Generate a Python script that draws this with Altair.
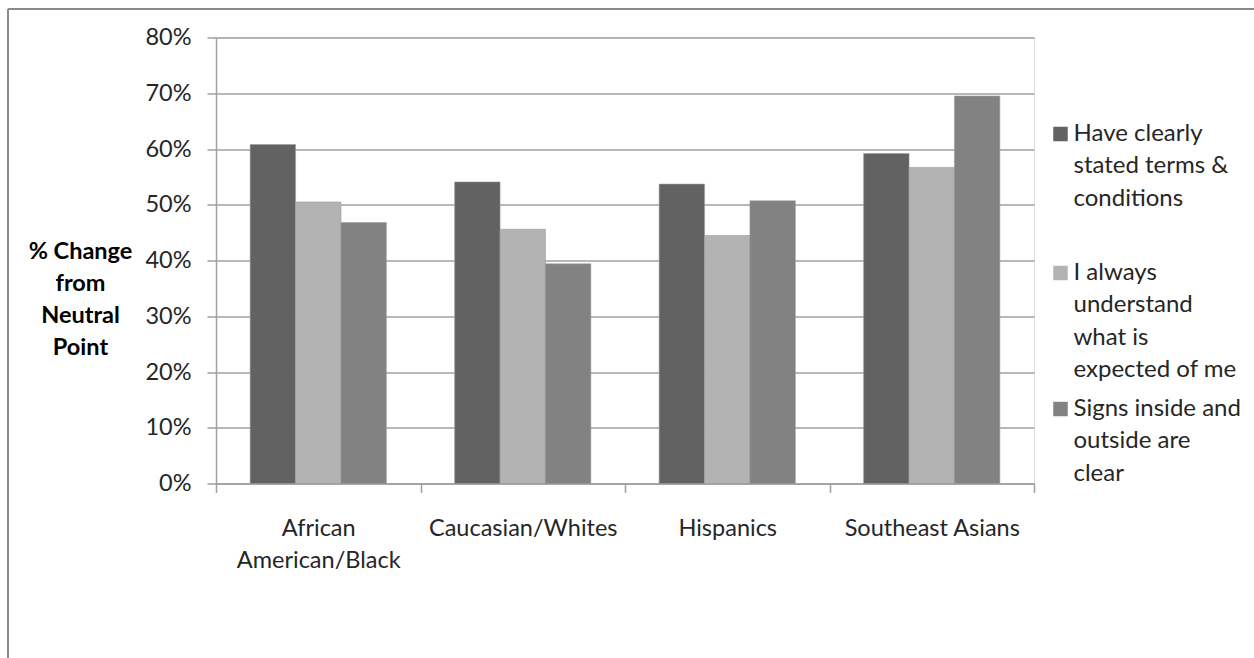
import altair as alt
import pandas as pd

# ---- data ----
groups = ["African American/Black", "Caucasian/Whites", "Hispanics", "Southeast Asians"]
series = [
    "Have clearly stated terms & conditions",
    "I always understand what is expected of me",
    "Signs inside and outside are clear",
]
legend_lines = [
    ["Have clearly", "stated terms &", "conditions"],
    ["I always", "understand", "what is", "expected of me"],
    ["Signs inside and", "outside are", "clear"],
]
terms = [0.608, 0.541, 0.537, 0.592]
understand = [0.505, 0.456, 0.445, 0.567]
signs = [0.468, 0.394, 0.507, 0.695]
colors = ["#626262", "#b3b3b3", "#828282"]
y_ticks = [0, 0.1, 0.2, 0.3, 0.4, 0.5, 0.6, 0.7, 0.8]

rows = []
for s, vals in zip(series, [terms, understand, signs]):
    for g, v in zip(groups, vals):
        rows.append({"group": g, "series": s, "value": v})
df = pd.DataFrame(rows)

FONT = "Lato"
W, H = 818, 446
PL, PT = 216, 37.5

bars = alt.Chart(df).mark_bar(stroke="#9a9a9a", strokeWidth=0.6).encode(
    x=alt.X(
        "group:N",
        sort=groups,
        scale=alt.Scale(paddingInner=0, paddingOuter=0),
        axis=alt.Axis(
            title=None,
            labelAngle=0,
            labelExpr="datum.label == 'African American/Black' ? ['African', 'American/Black'] : datum.label",
            labelFontSize=23.5,
            labelLineHeight=32,
            labelBaseline="top",
            labelPadding=24,
            labelLimit=400,
            labelOverlap=False,
            tickBand="extent",
            tickSize=9,
            tickColor="#a0a0a0",
            tickWidth=1.5,
            domainColor="#a0a0a0",
            domainWidth=1.5,
            grid=False,
        ),
    ),
    xOffset=alt.XOffset(
        "series:N", sort=series, scale=alt.Scale(paddingInner=0, paddingOuter=0.752)
    ),
    y=alt.Y(
        "value:Q",
        scale=alt.Scale(domain=[0, 0.8], nice=False),
        axis=alt.Axis(
            values=y_ticks,
            format=".0%",
            title=["% Change", "from", "Neutral", "Point"],
            titleAngle=0,
            titleFontWeight="bold",
            titleFontSize=23.5,
            titleLineHeight=32,
            titleAlign="center",
            titleBaseline="top",
            titleX=-136,
            titleY=201.5,
            labelFontSize=23.5,
            labelPadding=16,
            tickSize=9,
            tickColor="#a0a0a0",
            tickWidth=1.5,
            domainColor="#a0a0a0",
            domainWidth=1.5,
            gridColor="#a0a0a0",
            gridWidth=1.5,
        ),
    ),
    color=alt.Color(
        "series:N",
        sort=series,
        scale=alt.Scale(domain=series, range=colors),
        legend=None,
    ),
)

# manual legend (Excel-style wrapped labels)
legend_tops = [84.2, 223.2, 359.2]  # first-line tops, relative to plot area
legend_layers = []
for s, lines, top, col in zip(series, legend_lines, legend_tops, colors):
    ldf = pd.DataFrame({"series": [s], "lines": [lines]})
    sq = alt.Chart(ldf).mark_square(size=210, color=col, opacity=1).encode(
        x=alt.value(844.5), y=alt.value(top + 12.3)
    )
    tx = alt.Chart(ldf).mark_text(
        align="left", baseline="top", fontSize=24, lineHeight=32.5, color="#262626", font=FONT
    ).encode(x=alt.value(857.5), y=alt.value(top), text="lines")
    legend_layers += [sq, tx]

frame_left = alt.Chart(df).mark_rule(color="#8a8a8a", strokeWidth=2).encode(
    x=alt.value(8 - PL), y=alt.value(9 - PT), y2=alt.value(700)
)
frame_top = alt.Chart(df).mark_rule(color="#8a8a8a", strokeWidth=2).encode(
    x=alt.value(8 - PL), x2=alt.value(1300), y=alt.value(9 - PT)
)

chart = alt.layer(bars, *legend_layers, frame_left, frame_top).properties(
    width=W,
    height=H,
    autosize=alt.AutoSizeParams(type="none"),
    padding={"left": PL, "top": PT, "right": 1254 - PL - W, "bottom": 658 - PT - H},
    background="white",
).configure_view(stroke=None).configure(
    font=FONT
).configure_axis(
    labelColor="#262626", titleColor="#000000", labelFont=FONT, titleFont=FONT
)

chart.save("out.html", embed_options={"renderer": "svg", "actions": False})
